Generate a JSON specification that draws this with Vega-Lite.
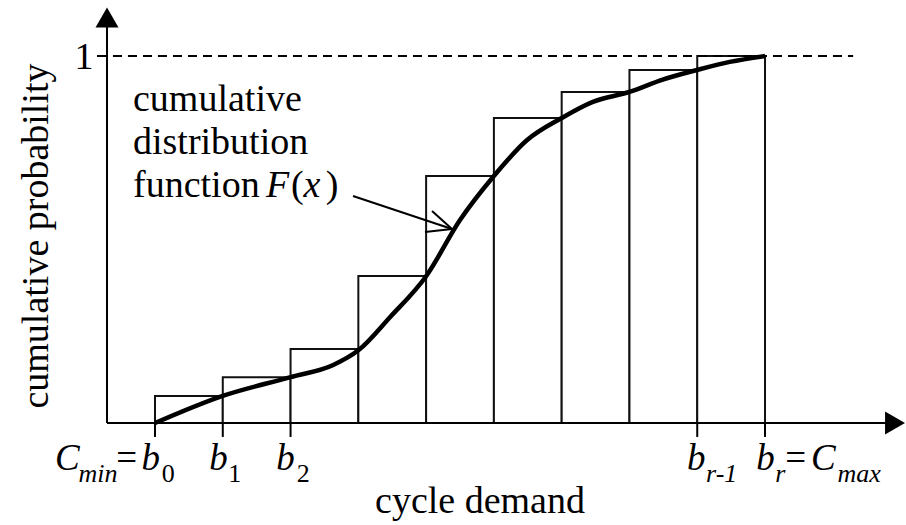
{
  "$schema": "https://vega.github.io/schema/vega-lite/v6.json",
  "width": 906,
  "height": 525,
  "autosize": {"type": "none"},
  "padding": 0,
  "background": "white",
  "config": {"view": {"stroke": null}},
  "datasets": {
    "bars": [
      {"x0": 0, "x1": 1, "p": 0.0736},
      {"x0": 1, "x1": 2, "p": 0.125},
      {"x0": 2, "x1": 3, "p": 0.2016},
      {"x0": 3, "x1": 4, "p": 0.4005},
      {"x0": 4, "x1": 5, "p": 0.673},
      {"x0": 5, "x1": 6, "p": 0.831},
      {"x0": 6, "x1": 7, "p": 0.902},
      {"x0": 7, "x1": 8, "p": 0.962},
      {"x0": 8, "x1": 9, "p": 1.0}
    ],
    "cdf": [
      {"x": 0, "F": 0},
      {"x": 1, "F": 0.074},
      {"x": 2, "F": 0.125},
      {"x": 2.63, "F": 0.158},
      {"x": 3, "F": 0.198},
      {"x": 3.47, "F": 0.289},
      {"x": 4, "F": 0.4},
      {"x": 4.5, "F": 0.553},
      {"x": 5, "F": 0.673},
      {"x": 5.49, "F": 0.771},
      {"x": 6, "F": 0.831},
      {"x": 6.46, "F": 0.875},
      {"x": 7, "F": 0.902},
      {"x": 7.48, "F": 0.935},
      {"x": 8, "F": 0.962},
      {"x": 8.48, "F": 0.984},
      {"x": 9, "F": 1.0}
    ],
    "dash": [{"x": -0.62, "x2": 10.3, "y": 1}],
    "lines": [
      {"x": -0.708, "y": 0, "x2": -0.708, "y2": 1.09},
      {"x": -0.708, "y": 0, "x2": 10.8, "y2": 0},
      {"x": 0, "y": 0, "x2": 0, "y2": -0.038},
      {"x": 1, "y": 0, "x2": 1, "y2": -0.038},
      {"x": 2, "y": 0, "x2": 2, "y2": -0.038},
      {"x": 8, "y": 0, "x2": 8, "y2": -0.038},
      {"x": 9, "y": 0, "x2": 9, "y2": -0.038},
      {"x": -0.856, "y": 1, "x2": -0.708, "y2": 1},
      {"x": 2.921, "y": 0.6185, "x2": 4.382, "y2": 0.5286},
      {"x": 4.382, "y": 0.5286, "x2": 4.087, "y2": 0.5777},
      {"x": 4.382, "y": 0.5286, "x2": 3.983, "y2": 0.5204}
    ],
    "arrowUp": [{"x": -0.708, "y": 1.105}],
    "arrowRight": [{"x": 10.918, "y": 0}],
    "centerText": [
      {"x": 4.795, "y": -0.245, "t": "cycle demand"},
      {"x": -1.0475, "y": 0.9646, "t": "1"}
    ],
    "leftText": [
      {"x": -0.3246, "y": 0.8501, "t": "cumulative"},
      {"x": -0.3246, "y": 0.733, "t": "distribution"},
      {"x": -0.3246, "y": 0.6158, "t": "function"},
      {"x": 2.006, "y": 0.6158, "t": "("},
      {"x": 2.52, "y": 0.6158, "t": ")"}
    ],
    "italicText": [
      {"x": 1.638, "y": 0.6158, "t": "F"},
      {"x": 2.19, "y": 0.6158, "t": "x"}
    ],
    "mathItalic": [
      {"x": -1.475, "y": -0.128, "t": "C"},
      {"x": -0.2, "y": -0.128, "t": "b"},
      {"x": 0.8, "y": -0.128, "t": "b"},
      {"x": 1.79, "y": -0.128, "t": "b"},
      {"x": 7.85, "y": -0.128, "t": "b"},
      {"x": 8.87, "y": -0.128, "t": "b"},
      {"x": 9.68, "y": -0.128, "t": "C"}
    ],
    "mathRoman": [
      {"x": -0.57, "y": -0.128, "t": "="},
      {"x": 9.3, "y": -0.128, "t": "="}
    ],
    "subItalic": [
      {"x": -1.13, "y": -0.161, "t": "min"},
      {"x": 8.13, "y": -0.161, "t": "r-1"},
      {"x": 9.15, "y": -0.161, "t": "r"},
      {"x": 10.07, "y": -0.161, "t": "max"}
    ],
    "subRoman": [
      {"x": 0.1, "y": -0.161, "t": "0"},
      {"x": 1.08, "y": -0.161, "t": "1"},
      {"x": 2.09, "y": -0.161, "t": "2"}
    ],
    "yTitle": [{"x": -1.579, "y": 0.5095, "t": "cumulative probability"}]
  },
  "layer": [
    {
      "data": {"name": "bars"},
      "mark": {"type": "rect", "fill": "white", "stroke": "#111", "strokeWidth": 2},
      "encoding": {
        "x": {"field": "x0", "type": "quantitative", "scale": {"domain": [-2.2868, 11.08], "nice": false, "zero": false}, "axis": null},
        "x2": {"field": "x1"},
        "y": {"field": "p", "type": "quantitative", "scale": {"domain": [-0.2779, 1.1526], "nice": false, "zero": false}, "axis": null},
        "y2": {"datum": 0}
      }
    },
    {
      "data": {"name": "dash"},
      "mark": {"type": "rule", "stroke": "black", "strokeWidth": 2, "strokeDash": [9, 6]},
      "encoding": {
        "x": {"field": "x", "type": "quantitative", "scale": {"domain": [-2.2868, 11.08], "nice": false, "zero": false}, "axis": null},
        "x2": {"field": "x2"},
        "y": {"field": "y", "type": "quantitative", "scale": {"domain": [-0.2779, 1.1526], "nice": false, "zero": false}, "axis": null}
      }
    },
    {
      "data": {"name": "cdf"},
      "mark": {"type": "line", "stroke": "black", "strokeWidth": 4.5, "interpolate": "monotone"},
      "encoding": {
        "x": {"field": "x", "type": "quantitative", "scale": {"domain": [-2.2868, 11.08], "nice": false, "zero": false}, "axis": null},
        "y": {"field": "F", "type": "quantitative", "scale": {"domain": [-0.2779, 1.1526], "nice": false, "zero": false}, "axis": null}
      }
    },
    {
      "data": {"name": "lines"},
      "mark": {"type": "rule", "stroke": "black", "strokeWidth": 2},
      "encoding": {
        "x": {"field": "x", "type": "quantitative", "scale": {"domain": [-2.2868, 11.08], "nice": false, "zero": false}, "axis": null},
        "x2": {"field": "x2"},
        "y": {"field": "y", "type": "quantitative", "scale": {"domain": [-0.2779, 1.1526], "nice": false, "zero": false}, "axis": null},
        "y2": {"field": "y2"}
      }
    },
    {
      "data": {"name": "arrowUp"},
      "mark": {"type": "point", "shape": "triangle-up", "size": 529, "filled": true, "color": "black", "opacity": 1},
      "encoding": {
        "x": {"field": "x", "type": "quantitative", "scale": {"domain": [-2.2868, 11.08], "nice": false, "zero": false}, "axis": null},
        "y": {"field": "y", "type": "quantitative", "scale": {"domain": [-0.2779, 1.1526], "nice": false, "zero": false}, "axis": null}
      }
    },
    {
      "data": {"name": "arrowRight"},
      "mark": {"type": "point", "shape": "triangle-right", "size": 529, "filled": true, "color": "black", "opacity": 1},
      "encoding": {
        "x": {"field": "x", "type": "quantitative", "scale": {"domain": [-2.2868, 11.08], "nice": false, "zero": false}, "axis": null},
        "y": {"field": "y", "type": "quantitative", "scale": {"domain": [-0.2779, 1.1526], "nice": false, "zero": false}, "axis": null}
      }
    },
    {
      "data": {"name": "centerText"},
      "mark": {"type": "text", "font": "Liberation Serif", "fontSize": 38, "baseline": "alphabetic", "align": "center", "color": "black"},
      "encoding": {
        "x": {"field": "x", "type": "quantitative", "scale": {"domain": [-2.2868, 11.08], "nice": false, "zero": false}, "axis": null},
        "y": {"field": "y", "type": "quantitative", "scale": {"domain": [-0.2779, 1.1526], "nice": false, "zero": false}, "axis": null},
        "text": {"field": "t"}
      }
    },
    {
      "data": {"name": "leftText"},
      "mark": {"type": "text", "font": "Liberation Serif", "fontSize": 38, "baseline": "alphabetic", "align": "left", "color": "black"},
      "encoding": {
        "x": {"field": "x", "type": "quantitative", "scale": {"domain": [-2.2868, 11.08], "nice": false, "zero": false}, "axis": null},
        "y": {"field": "y", "type": "quantitative", "scale": {"domain": [-0.2779, 1.1526], "nice": false, "zero": false}, "axis": null},
        "text": {"field": "t"}
      }
    },
    {
      "data": {"name": "italicText"},
      "mark": {"type": "text", "font": "Liberation Serif", "fontSize": 38, "fontStyle": "italic", "baseline": "alphabetic", "align": "left", "color": "black"},
      "encoding": {
        "x": {"field": "x", "type": "quantitative", "scale": {"domain": [-2.2868, 11.08], "nice": false, "zero": false}, "axis": null},
        "y": {"field": "y", "type": "quantitative", "scale": {"domain": [-0.2779, 1.1526], "nice": false, "zero": false}, "axis": null},
        "text": {"field": "t"}
      }
    },
    {
      "data": {"name": "mathItalic"},
      "mark": {"type": "text", "font": "Liberation Serif", "fontSize": 37, "fontStyle": "italic", "baseline": "alphabetic", "align": "left", "color": "black"},
      "encoding": {
        "x": {"field": "x", "type": "quantitative", "scale": {"domain": [-2.2868, 11.08], "nice": false, "zero": false}, "axis": null},
        "y": {"field": "y", "type": "quantitative", "scale": {"domain": [-0.2779, 1.1526], "nice": false, "zero": false}, "axis": null},
        "text": {"field": "t"}
      }
    },
    {
      "data": {"name": "mathRoman"},
      "mark": {"type": "text", "font": "Liberation Serif", "fontSize": 37, "baseline": "alphabetic", "align": "left", "color": "black"},
      "encoding": {
        "x": {"field": "x", "type": "quantitative", "scale": {"domain": [-2.2868, 11.08], "nice": false, "zero": false}, "axis": null},
        "y": {"field": "y", "type": "quantitative", "scale": {"domain": [-0.2779, 1.1526], "nice": false, "zero": false}, "axis": null},
        "text": {"field": "t"}
      }
    },
    {
      "data": {"name": "subItalic"},
      "mark": {"type": "text", "font": "Liberation Serif", "fontSize": 26, "fontStyle": "italic", "baseline": "alphabetic", "align": "left", "color": "black"},
      "encoding": {
        "x": {"field": "x", "type": "quantitative", "scale": {"domain": [-2.2868, 11.08], "nice": false, "zero": false}, "axis": null},
        "y": {"field": "y", "type": "quantitative", "scale": {"domain": [-0.2779, 1.1526], "nice": false, "zero": false}, "axis": null},
        "text": {"field": "t"}
      }
    },
    {
      "data": {"name": "subRoman"},
      "mark": {"type": "text", "font": "Liberation Serif", "fontSize": 26, "baseline": "alphabetic", "align": "left", "color": "black"},
      "encoding": {
        "x": {"field": "x", "type": "quantitative", "scale": {"domain": [-2.2868, 11.08], "nice": false, "zero": false}, "axis": null},
        "y": {"field": "y", "type": "quantitative", "scale": {"domain": [-0.2779, 1.1526], "nice": false, "zero": false}, "axis": null},
        "text": {"field": "t"}
      }
    },
    {
      "data": {"name": "yTitle"},
      "mark": {"type": "text", "font": "Liberation Serif", "fontSize": 38, "baseline": "alphabetic", "align": "center", "angle": 270, "color": "black"},
      "encoding": {
        "x": {"field": "x", "type": "quantitative", "scale": {"domain": [-2.2868, 11.08], "nice": false, "zero": false}, "axis": null},
        "y": {"field": "y", "type": "quantitative", "scale": {"domain": [-0.2779, 1.1526], "nice": false, "zero": false}, "axis": null},
        "text": {"field": "t"}
      }
    }
  ]
}
